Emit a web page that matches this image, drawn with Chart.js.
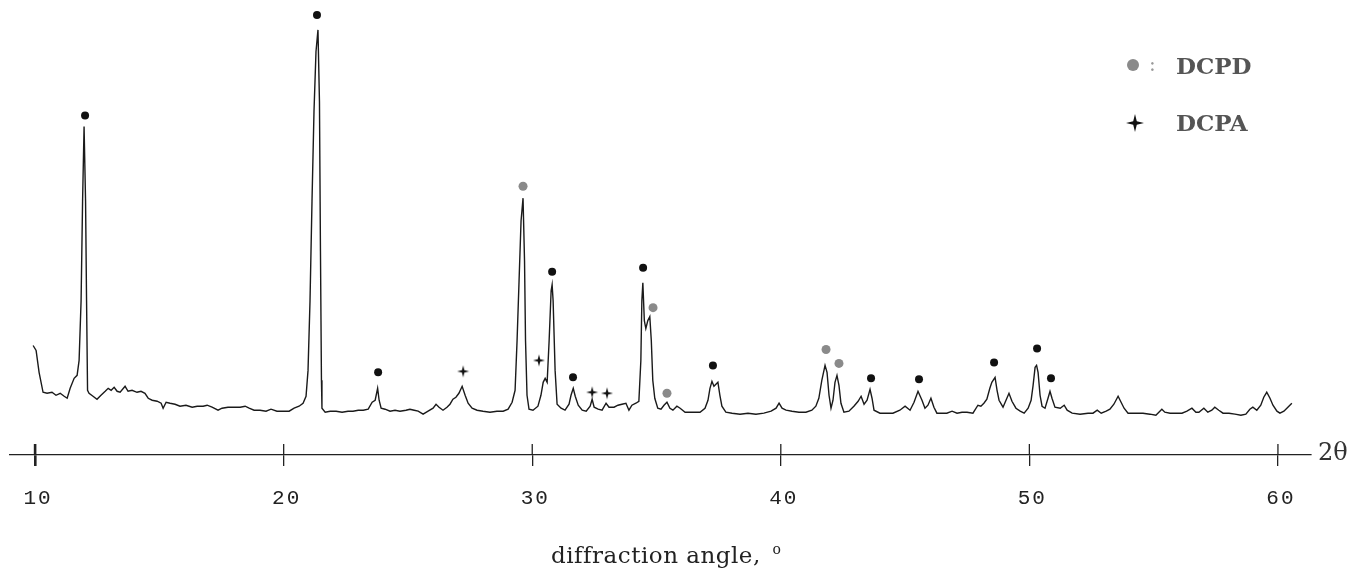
<!DOCTYPE html>
<html>
<head>
<meta charset="utf-8">
<script src="https://cdn.jsdelivr.net/npm/chart.js@4.4.0/dist/chart.umd.min.js"></script>
<style>
  body { margin: 0; background: #fff; }
  #wrap { position: relative; width: 1370px; height: 581px; }
  .lbl { position: absolute; font-family: "DejaVu Serif", serif; white-space: nowrap; line-height: 1; }
</style>
</head>
<body>
<div id="wrap">
  <canvas id="xrd"></canvas>
  <div class="lbl" style="left:1127px; top:59px; width:12px; height:12px; border-radius:50%; background:#8a8a8a;"></div>
  <div class="lbl" style="left:1149px; top:54px; font-size:20px; color:#999;">:</div>
  <div class="lbl" style="left:1176px; top:54px; font-size:23px; font-weight:bold; color:#555;">DCPD</div>
  <div class="lbl" id="legStar" style="left:1125px; top:113px;"></div>
  <div class="lbl" style="left:1176px; top:111px; font-size:23px; font-weight:bold; color:#555;">DCPA</div>
  <div class="lbl" style="left:1318px; top:440px; font-size:24px; color:#333;">2θ</div>
  <div class="lbl" style="left:551px; top:542px; font-size:23px; letter-spacing:0.5px; color:#222;">diffraction angle, <sup style="font-size:14px; margin-left:4px;">o</sup></div>
</div>
<script>
// diffractogram trace (2theta in degrees, intensity in arbitrary units)
const twoTheta = [9.92,10.04,10.16,10.32,10.48,10.68,10.84,11.01,11.17,11.29,11.41,11.57,11.69,11.77,11.85,11.91,11.97,12.03,12.07,12.11,12.17,12.33,12.49,12.65,12.82,12.94,13.06,13.18,13.30,13.42,13.62,13.74,13.90,14.10,14.26,14.42,14.55,14.71,14.91,15.07,15.15,15.27,15.43,15.63,15.83,16.07,16.32,16.52,16.76,16.92,17.12,17.36,17.52,17.76,18.00,18.25,18.45,18.61,18.81,19.05,19.29,19.49,19.73,19.98,20.22,20.42,20.62,20.78,20.90,20.98,21.06,21.14,21.22,21.30,21.38,21.44,21.48,21.52,21.54,21.67,21.87,22.11,22.35,22.59,22.79,23.00,23.20,23.40,23.56,23.68,23.78,23.84,23.92,24.08,24.28,24.48,24.68,24.92,25.08,25.25,25.41,25.61,25.81,26.01,26.13,26.25,26.41,26.57,26.69,26.81,26.93,27.05,27.18,27.30,27.42,27.58,27.78,28.02,28.30,28.58,28.83,29.03,29.19,29.31,29.39,29.47,29.55,29.63,29.69,29.73,29.79,29.87,30.03,30.23,30.35,30.44,30.52,30.60,30.68,30.76,30.80,30.84,30.92,31.00,31.16,31.32,31.48,31.56,31.65,31.73,31.85,32.01,32.17,32.33,32.41,32.49,32.65,32.81,32.97,33.09,33.29,33.45,33.61,33.77,33.89,34.01,34.17,34.29,34.37,34.41,34.45,34.51,34.57,34.65,34.73,34.79,34.85,34.93,35.05,35.18,35.30,35.42,35.54,35.66,35.82,35.95,36.15,36.43,36.75,36.95,37.07,37.15,37.23,37.31,37.39,37.47,37.55,37.63,37.79,38.04,38.36,38.68,39.00,39.32,39.61,39.81,39.93,40.05,40.21,40.45,40.73,41.01,41.25,41.41,41.53,41.65,41.78,41.86,41.94,42.02,42.10,42.18,42.26,42.34,42.42,42.54,42.74,42.94,43.11,43.23,43.35,43.47,43.59,43.67,43.75,43.99,44.27,44.51,44.79,45.00,45.20,45.36,45.52,45.68,45.80,45.92,46.04,46.16,46.28,46.48,46.68,46.89,47.09,47.29,47.49,47.73,47.93,48.05,48.17,48.29,48.41,48.49,48.62,48.70,48.78,48.94,49.06,49.18,49.30,49.46,49.63,49.79,49.95,50.07,50.15,50.23,50.29,50.35,50.43,50.51,50.63,50.75,50.83,50.91,51.03,51.24,51.40,51.52,51.72,52.04,52.36,52.56,52.73,52.89,53.09,53.24,53.40,53.57,53.69,53.81,53.97,54.25,54.57,54.85,55.09,55.21,55.33,55.45,55.66,55.90,56.14,56.34,56.54,56.70,56.82,57.02,57.18,57.34,57.46,57.62,57.79,58.03,58.27,58.51,58.71,58.87,58.99,59.15,59.31,59.43,59.55,59.68,59.80,59.96,60.08,60.24,60.40,60.56];
const intensity = [110,105,83,63,62,63,60,62,59,57,67,77,80,95,155,255,330,255,155,65,62,59,56,60,64,67,65,68,64,63,69,64,65,63,64,62,57,55,54,52,47,53,52,51,49,50,48,49,49,50,48,45,47,48,48,48,49,47,45,45,44,46,44,44,44,47,49,52,59,85,155,255,345,405,427,355,205,75,47,43,44,44,43,44,44,45,45,46,53,55,67,55,47,46,44,45,44,45,46,45,44,41,44,47,51,48,45,48,51,56,58,62,69,60,52,47,45,44,43,44,44,46,53,65,115,175,235,258,195,115,60,46,45,49,60,73,77,73,115,165,171,155,85,51,47,45,51,60,67,59,50,45,44,49,56,48,46,45,52,48,48,50,51,52,45,50,52,54,95,155,173,135,127,135,139,115,75,57,47,46,50,53,47,45,49,47,43,43,43,47,55,67,74,69,71,73,60,49,43,42,41,42,41,42,44,47,52,47,45,44,43,43,45,49,57,75,90,83,60,47,55,73,80,70,52,43,44,49,54,59,51,55,66,57,45,42,42,42,45,49,45,53,64,55,47,50,57,48,42,42,42,44,42,43,43,42,50,49,52,56,67,73,78,65,55,48,55,62,54,47,44,42,47,55,70,88,90,83,60,49,47,57,64,57,48,47,50,45,42,41,42,42,45,42,44,46,51,59,53,47,42,42,42,41,40,43,46,43,42,42,42,44,47,43,43,47,43,45,48,45,42,42,41,40,41,46,48,45,50,58,63,57,50,44,42,44,48,52];

// peak markers
const dcpdBlackX = [12.01,21.34,23.80,30.80,31.64,34.46,37.27,43.63,45.56,48.58,50.31,50.87];
const dcpdBlackY = [341,442,83,184,78,188,90,77,76,93,107,77];
const dcpdGreyX = [29.63,34.86,35.42,41.82,42.34];
const dcpdGreyY = [270,148,62,106,92];
const dcpaX = [27.22,30.27,32.41,33.01];
const dcpaY = [84,95,63,62];

const tickValues = [10,20,30,40,50,60];

function makeStar(r, color) {
  const c = document.createElement('canvas');
  c.width = c.height = 2 * r + 2;
  const g = c.getContext('2d');
  g.translate(r + 1, r + 1);
  g.beginPath();
  for (let i = 0; i < 8; i++) {
    const a = i * Math.PI / 4 - Math.PI / 2;
    const rr = i % 2 === 0 ? r : r * 0.28;
    g.lineTo(Math.cos(a) * rr, Math.sin(a) * rr);
  }
  g.closePath();
  g.fillStyle = color;
  g.fill();
  return c;
}
document.getElementById('legStar').appendChild(makeStar(9, '#111'));

const pts = (xs, ys) => xs.map((x, i) => ({x: x, y: ys[i]}));

// letter spacing for the tick labels + upper half of the axis ticks
const tickTops = {
  id: 'tickTops',
  beforeDraw(chart) { chart.ctx.letterSpacing = '2px'; },
  beforeDatasetsDraw(chart) { chart.ctx.letterSpacing = '0px'; },
  afterDraw(chart) {
    const sx = chart.scales.x, ctx = chart.ctx, y0 = chart.chartArea.bottom;
    ctx.save();
    ctx.strokeStyle = '#222';
    sx.ticks.forEach((t, i) => {
      const px = sx.getPixelForValue(t.value);
      ctx.lineWidth = i === 0 ? 2.6 : 1.3;
      ctx.beginPath();
      ctx.moveTo(px, y0 - 11);
      ctx.lineTo(px, y0);
      ctx.stroke();
    });
    ctx.restore();
  }
};

const ctx = document.getElementById('xrd').getContext('2d');
const myChart = new Chart(ctx, {
  type: 'line',
  data: {
    datasets: [{
      label: 'trace',
      data: pts(twoTheta, intensity),
      borderColor: '#1a1a1a',
      borderWidth: 1.4,
      pointRadius: 0,
      tension: 0
    }, {
      type: 'scatter',
      label: 'DCPD',
      data: pts(dcpdBlackX, dcpdBlackY),
      pointRadius: 4,
      pointBackgroundColor: '#111',
      pointBorderWidth: 0
    }, {
      type: 'scatter',
      label: 'DCPD ',
      data: pts(dcpdGreyX, dcpdGreyY),
      pointRadius: 4.5,
      pointBackgroundColor: '#8a8a8a',
      pointBorderWidth: 0
    }, {
      type: 'scatter',
      label: 'DCPA',
      data: pts(dcpaX, dcpaY),
      pointStyle: makeStar(6, '#111'),
      pointRadius: 6
    }]
  },
  options: {
    responsive: true,
    maintainAspectRatio: false,
    animation: false,
    layout: { padding: { left: 10, right: 60, top: 0, bottom: 0 } },
    plugins: { legend: { display: false }, tooltip: { enabled: false } },
    scales: {
      x: {
        type: 'linear',
        min: 8.99,
        max: 61.29,
        afterBuildTicks: (scale) => { scale.ticks = tickValues.map(v => ({value: v})); },
        afterFit: (scale) => { scale.height = 126; },
        grid: {
          drawOnChartArea: false,
          drawTicks: true,
          tickLength: 11,
          color: '#222',
          lineWidth: (c) => c.index === 0 ? 2.6 : 1.3
        },
        border: { display: true, color: '#222', width: 1.3 },
        ticks: {
          padding: 20,
          labelOffset: 3,
          color: '#222',
          font: { family: 'Liberation Mono', size: 21 },
          maxRotation: 0
        }
      },
      y: {
        display: false,
        min: 0,
        max: 450
      }
    }
  },
  plugins: [tickTops]
});
</script>
</body>
</html>
